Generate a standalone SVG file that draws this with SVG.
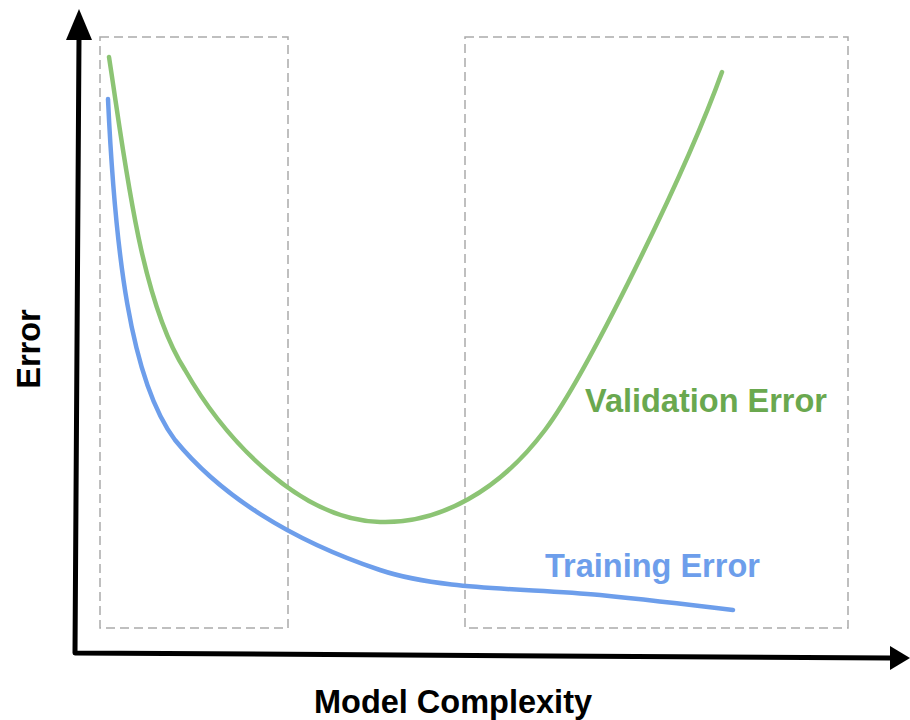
<svg xmlns="http://www.w3.org/2000/svg" width="910" height="720" viewBox="0 0 910 720">
<style>
.box{fill:none;stroke:#aaaaaa;stroke-width:1.5;stroke-dasharray:9 5}
.axis{fill:none;stroke:#000;stroke-width:5;stroke-linejoin:round}
.curve{fill:none;stroke-width:4.5;stroke-linecap:round}
.lbl{font-family:"Liberation Sans",Arial,sans-serif;font-weight:bold;font-size:32.5px}
</style>
<rect width="910" height="720" fill="#fff"/>
<g id="region-underfit"><rect class="box" x="100" y="37" width="188" height="591"/></g>
<g id="region-overfit"><rect class="box" x="465" y="37" width="383" height="591"/></g>
<g id="connectors">
<path class="axis" d="M79,38 L75,653 L890,658"/>
<polygon points="79,9 66,40 92,40" fill="#000"/>
<polygon points="910,658 890,646 890,670" fill="#000"/>
</g>
<g id="validation-curve">
<path class="curve" stroke="#8cc474" d="M109,57 C125,160 140,300 185,370 C225,440 300,520 380,522 C440,524 500,490 545,430 C585,377 685,175 722,72"/>
<text class="lbl" x="585" y="412" fill="#6aa84f">Validation Error</text>
</g>
<g id="training-curve">
<path class="curve" stroke="#6d9eeb" d="M108,99 C115,250 130,380 175,440 C220,495 290,540 380,570 C440,590 520,588 600,595 C650,600 700,606 733,610"/>
<text class="lbl" x="545" y="577" fill="#6d9eeb">Training Error</text>
</g>
<g id="x-label"><text class="lbl" x="453" y="713" text-anchor="middle" fill="#000">Model Complexity</text></g>
<g id="y-label"><text class="lbl" transform="translate(40,349) rotate(-90)" text-anchor="middle" fill="#000">Error</text></g>
</svg>
